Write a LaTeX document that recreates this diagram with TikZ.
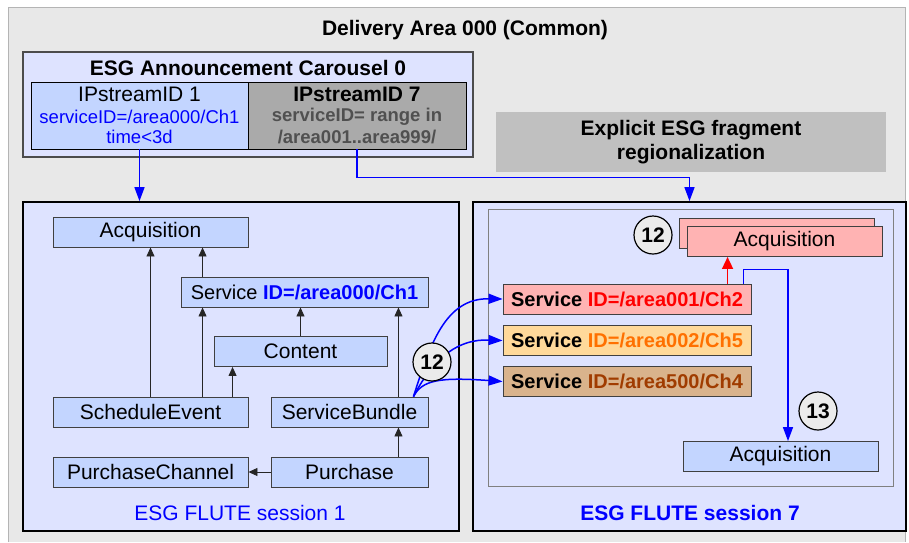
\documentclass[tikz,border=0pt]{standalone}
\usepackage{fontspec}
\setmainfont{Liberation Sans}
\usetikzlibrary{arrows.meta,calc}
\definecolor{outergray}{HTML}{E8E8E8}
\definecolor{outerline}{HTML}{B4B4B4}
\definecolor{lav}{HTML}{DEE3FF}
\definecolor{nblue}{HTML}{C3D5FF}
\definecolor{npink}{HTML}{FFB3B3}
\definecolor{norange}{HTML}{FFD99A}
\definecolor{ntan}{HTML}{D9B38C}
\definecolor{ngray}{HTML}{AAAAAA}
\definecolor{exgray}{HTML}{C0C0C0}
\definecolor{idorange}{HTML}{FF7000}
\definecolor{idbrown}{HTML}{A03C00}
\definecolor{txgray}{HTML}{505050}
\definecolor{circfill}{HTML}{EBEBEB}
\tikzset{
  fs/.style={font=\fontsize{21}{24}\selectfont},
  fsm/.style={font=\fontsize{20}{23}\selectfont},
  fss/.style={font=\fontsize{18.5}{21}\selectfont},
  nbox/.style={draw=black!75, line width=0.9pt, fill=nblue, minimum height=30, inner sep=0pt, fs},
  sbox/.style={draw=black!75, line width=0.9pt, minimum width=248, minimum height=30, inner sep=0pt, fsm},
  sess/.style={draw=black, line width=1.8pt, fill=lav, inner sep=0pt},
  blk/.style={-{Triangle[length=9,width=8]}, line width=0.9pt, draw=black!85},
  blu/.style={-{Triangle[length=14,width=10]}, line width=1.5pt, draw=blue},
  num/.style={circle, draw=black, line width=1.2pt, fill=circfill, minimum size=38, inner sep=0pt, font=\fontsize{21}{24}\selectfont\bfseries},
}
\begin{document}
\begin{tikzpicture}[x=1pt,y=-1pt]
\useasboundingbox (0,0) rectangle (909,542);
\fill[white] (0,0) rectangle (909,542);
% outer area
\fill[outergray] (8,7) rectangle (905,542);
\draw[outerline, line width=1pt] (8,542) -- (8,7) -- (905,7) -- (905,542);
\node[fs, font=\fontsize{21}{24}\selectfont\bfseries] (title) at (465,30) {Delivery Area 000 (Common)};

% carousel
\node[draw=black!70, line width=1.2pt, fill=lav, minimum width=450, minimum height=105, inner sep=0pt] (car) at (248,104.5) {};
\node[font=\fontsize{21}{24}\selectfont\bfseries] (cartitle) at (248,68) {ESG Announcement Carousel 0};
\node[draw=black, line width=0.9pt, fill=nblue, minimum width=217, minimum height=67, inner sep=0pt] (ip1) at (139.5,115.5) {};
\node[draw=black, line width=0.9pt, fill=ngray, minimum width=218, minimum height=67, inner sep=0pt] (ip7) at (357,115.5) {};
\node[fs] (ip1a) at (139.5,94) {IPstreamID 1};
\node[fss, text=blue] (ip1b) at (139.5,117) {serviceID=/area000/Ch1};
\node[fss, text=blue] (ip1c) at (139.5,137) {time<3d};
\node[fs, font=\fontsize{21}{24}\selectfont\bfseries] (ip7a) at (357,94) {IPstreamID 7};
\node[fss, font=\fontsize{18.5}{21}\selectfont\bfseries, text=txgray] (ip7b) at (357,117) {serviceID= range in};
\node[fss, font=\fontsize{18.5}{21}\selectfont\bfseries, text=txgray] (ip7c) at (357,137) {/area001..area999/};

% explicit box
\node[fill=exgray, minimum width=390, minimum height=60, inner sep=0pt, align=center, font=\fontsize{21}{24}\selectfont\bfseries] (expl) at (691,142) {Explicit ESG fragment\\regionalization};

% session boxes
\node[sess, minimum width=436, minimum height=329] (sessL) at (241,366.5) {};
\node[sess, minimum width=433, minimum height=329] (sessR) at (689.5,366.5) {};
\node[draw=black!50, line width=1pt, minimum width=405, minimum height=277, inner sep=0pt] (inner) at (690.5,347.5) {};
\node[fs, text=blue] (lab1) at (240,513) {ESG FLUTE session 1};
\node[fs, font=\fontsize{21}{24}\selectfont\bfseries, text=blue] (lab7) at (690,513) {ESG FLUTE session 7};

% carousel arrows
\draw[blu] (ip1.south) -- (ip1.south |- sessL.north);
\draw[blu, blue] (ip7.south) -- ++(0,28) -| (sessR.north);

% left nodes
\node[nbox, minimum width=195] (acqL) at (150.5,232) {Acquisition};
\node[nbox, minimum width=247, fsm] (servL) at (304.5,292) {Service {\bfseries\color{blue}ID=/area000/Ch1}};
\node[nbox, minimum width=173] (content) at (300.5,351.5) {Content};
\node[nbox, minimum width=195] (sched) at (150.5,412) {ScheduleEvent};
\node[nbox, minimum width=157] (bundle) at (349.5,412) {ServiceBundle};
\node[nbox, minimum width=195] (pchan) at (150.5,472) {PurchaseChannel};
\node[nbox, minimum width=157] (purch) at (349.5,472) {Purchase};

\draw[blk] (sched.north -| acqL.south) -- (acqL.south);
\draw[blk] ([xshift=22]servL.north west) -- ([xshift=22]servL.north west |- acqL.south);
\draw[blk] ([xshift=22]servL.south west |- sched.north) -- ([xshift=22]servL.south west);
\draw[blk] ([xshift=19]content.south west |- sched.north) -- ([xshift=19]content.south west);
\draw[blk] (content.north) -- (content.north |- servL.south);
\draw[blk] ([xshift=-30]bundle.north east) -- ([xshift=-30]bundle.north east |- servL.south);
\draw[blk] ([xshift=-30]purch.north east) -- ([xshift=-30]bundle.south east);
\draw[blk] (purch.west) -- (pchan.east);

% right nodes
\node[sbox, fill=npink] (s1) at (627,299) {\bfseries Service \textcolor{red}{ID=/area001/Ch2}};
\node[sbox, fill=norange] (s2) at (627,340.5) {\bfseries Service \textcolor{idorange}{ID=/area002/Ch5}};
\node[sbox, fill=ntan] (s3) at (627,381.5) {\bfseries Service \textcolor{idbrown}{ID=/area500/Ch4}};
\node[nbox, fill=npink, minimum width=195] (acqRb) at (776.5,233) {};
\node[nbox, fill=npink, minimum width=195] (acqR) at (784.5,241.5) {Acquisition};
\node[nbox, minimum width=195] (acqB) at (780.5,456.5) {Acquisition};

% blue curves
\draw[blu] ([xshift=-15]bundle.north east) .. controls (430,345) and (445,298) .. (s1.west);
\draw[blu] ([xshift=-15]bundle.north east) .. controls (435,355) and (460,339) .. (s2.west);
\draw[blu] ([xshift=-15]bundle.north east) .. controls (422,380) and (440,377) .. (s3.west);
\node[num] (c12L) at (432,362) {12};

\draw[-{Triangle[length=12,width=11]}, line width=1.6pt, red] ([xshift=225]s1.north west) -- ([xshift=225]s1.north west |- acqR.south);
\draw[blu] ([xshift=-8]s1.north east) -- ++(0,-14) -| ([xshift=7.5]acqB.north);
\node[num] (c12R) at (653,235) {12};
\node[num] (c13) at (818,411) {13};
\end{tikzpicture}
\end{document}
